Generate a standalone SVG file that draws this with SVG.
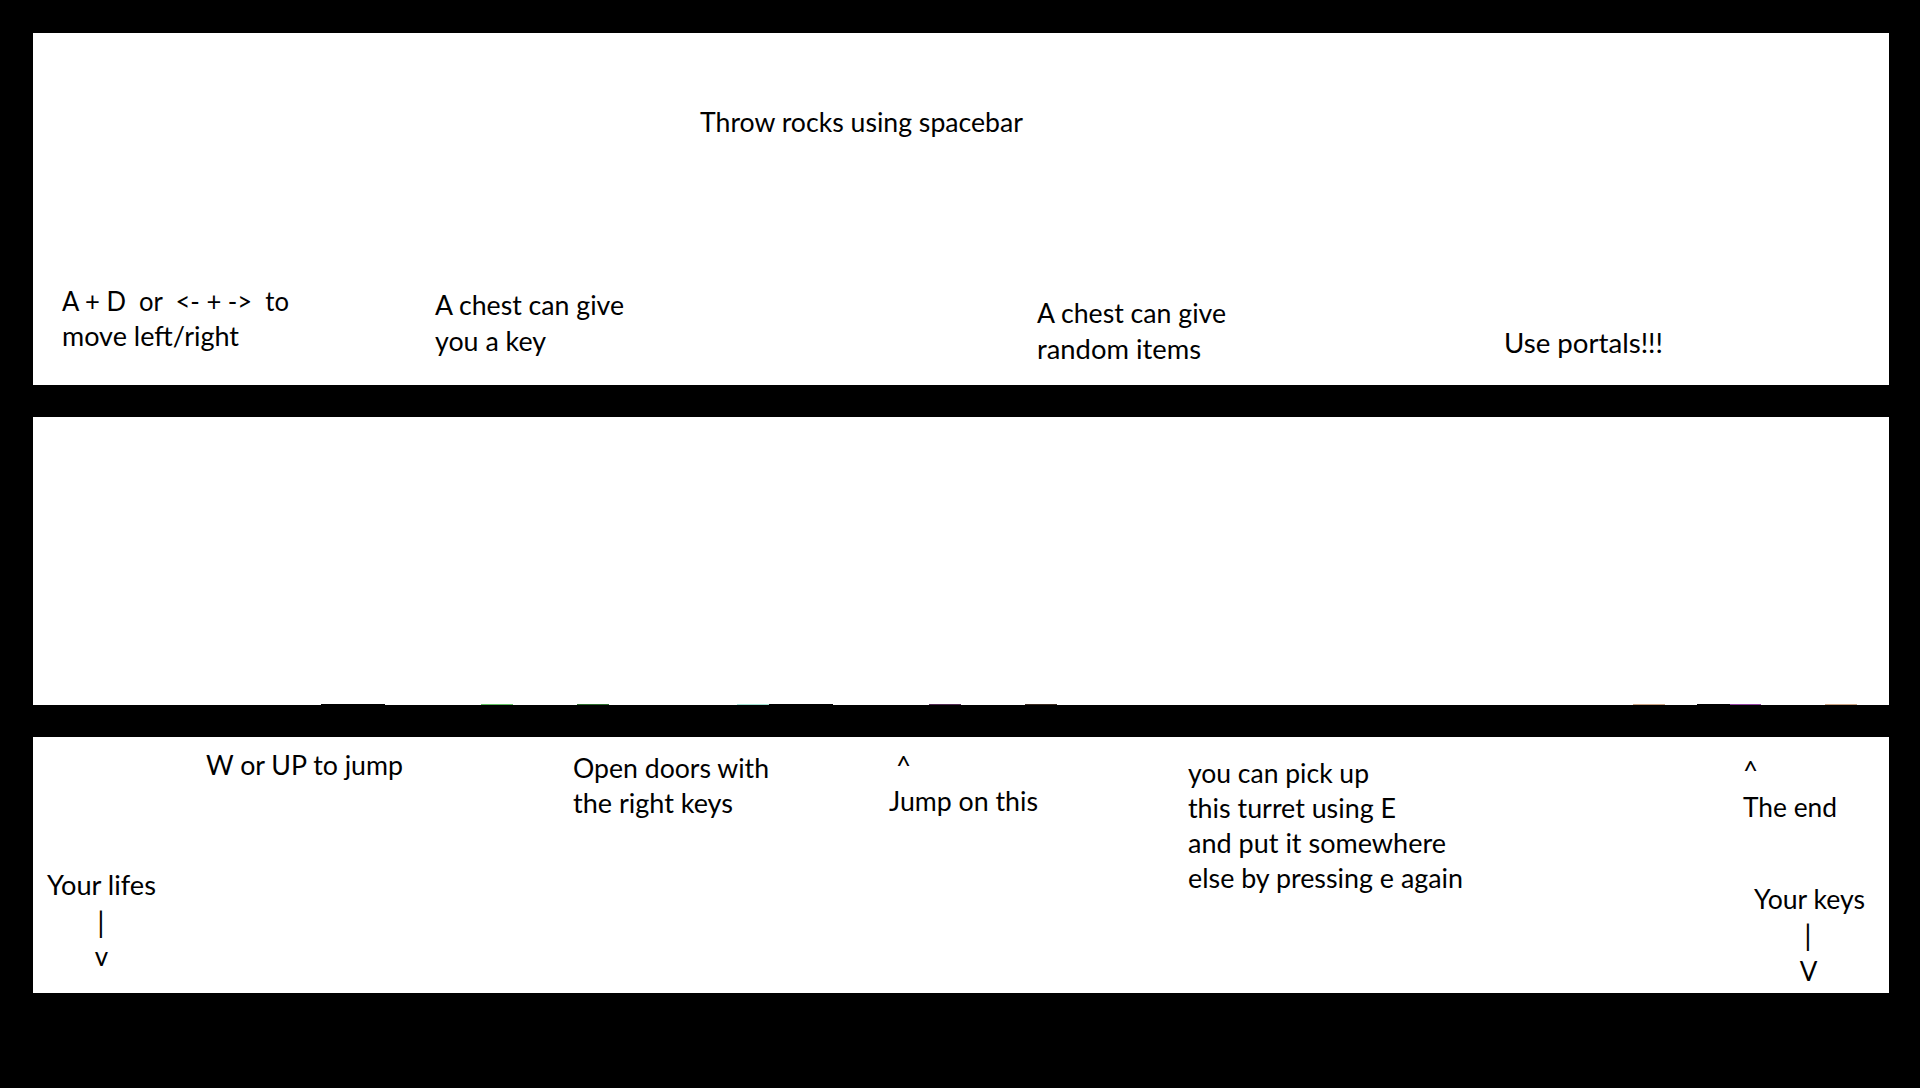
<svg xmlns="http://www.w3.org/2000/svg" width="1920" height="1088" viewBox="0 0 1920 1088">
<style>
.panel{fill:#ffffff}
.t{font-family:Lato,"Liberation Sans",sans-serif;font-size:26px;fill:#000000}
.bar{font-family:Lato,"Liberation Sans",sans-serif;font-size:29px;fill:#000000}
</style>
<rect x="0" y="0" width="1920" height="1088" fill="#000000"/>
<g id="panels">
<rect class="panel" x="33" y="33" width="1856" height="352"/>
<rect class="panel" x="33" y="417" width="1856" height="288"/>
<rect class="panel" x="33" y="737" width="1856" height="256"/>
</g>
<g id="strip">
<rect x="321" y="704" width="64" height="1" fill="#000000"/>
<rect x="481" y="704" width="32" height="1" fill="#5fbf5f"/>
<rect x="577" y="704" width="32" height="1" fill="#2a6a2a"/>
<rect x="737" y="704" width="32" height="1" fill="#a0e0d0"/>
<rect x="769" y="704" width="64" height="1" fill="#000000"/>
<rect x="929" y="704" width="32" height="1" fill="#502850"/>
<rect x="1025" y="704" width="32" height="1" fill="#3a2a20"/>
<rect x="1633" y="704" width="32" height="1" fill="#c8a080"/>
<rect x="1697" y="704" width="33" height="1" fill="#000000"/>
<rect x="1730" y="704" width="31" height="1" fill="#9040a0"/>
<rect x="1825" y="704" width="32" height="1" fill="#c8a080"/>
</g>
<g id="throw"><text class="t" x="700" y="132" textLength="323" lengthAdjust="spacingAndGlyphs">Throw rocks using spacebar</text></g>
<g id="move">
<text class="t" x="62" y="311" textLength="227" lengthAdjust="spacingAndGlyphs" xml:space="preserve">A + D  or  &lt;- + -&gt;  to</text>
<text class="t" x="62" y="346" textLength="177" lengthAdjust="spacingAndGlyphs">move left/right</text>
</g>
<g id="chest-key">
<text class="t" x="435" y="315" textLength="189" lengthAdjust="spacingAndGlyphs">A chest can give</text>
<text class="t" x="435" y="351" textLength="111" lengthAdjust="spacingAndGlyphs">you a key</text>
</g>
<g id="chest-items">
<text class="t" x="1037" y="323" textLength="189" lengthAdjust="spacingAndGlyphs">A chest can give</text>
<text class="t" x="1037" y="359" textLength="164" lengthAdjust="spacingAndGlyphs">random items</text>
</g>
<g id="portals"><text class="t" x="1504" y="353" textLength="159" lengthAdjust="spacingAndGlyphs">Use portals!!!</text></g>
<g id="jump"><text class="t" x="206" y="775" textLength="197" lengthAdjust="spacingAndGlyphs">W or UP to jump</text></g>
<g id="doors">
<text class="t" x="573" y="778" textLength="196" lengthAdjust="spacingAndGlyphs">Open doors with</text>
<text class="t" x="573" y="813" textLength="160" lengthAdjust="spacingAndGlyphs">the right keys</text>
</g>
<g id="jump-on">
<text class="t" x="896" y="775">^</text>
<text class="t" x="889" y="811" textLength="149" lengthAdjust="spacingAndGlyphs">Jump on this</text>
</g>
<g id="turret">
<text class="t" x="1188" y="783" textLength="181" lengthAdjust="spacingAndGlyphs">you can pick up</text>
<text class="t" x="1188" y="818" textLength="208" lengthAdjust="spacingAndGlyphs">this turret using E</text>
<text class="t" x="1188" y="853" textLength="258" lengthAdjust="spacingAndGlyphs">and put it somewhere</text>
<text class="t" x="1188" y="888" textLength="275" lengthAdjust="spacingAndGlyphs">else by pressing e again</text>
</g>
<g id="lifes">
<text class="t" x="47" y="895" textLength="109" lengthAdjust="spacingAndGlyphs">Your lifes</text>
<text class="bar" x="101" y="933" text-anchor="middle">|</text>
<text class="t" x="101.5" y="966" text-anchor="middle">v</text>
</g>
<g id="end">
<text class="t" x="1743" y="780">^</text>
<text class="t" x="1743" y="817" textLength="94" lengthAdjust="spacingAndGlyphs">The end</text>
</g>
<g id="keys">
<text class="t" x="1754" y="909" textLength="111" lengthAdjust="spacingAndGlyphs">Your keys</text>
<text class="bar" x="1808" y="946" text-anchor="middle">|</text>
<text class="t" x="1808.5" y="981" text-anchor="middle">V</text>
</g>
<g id="connectors"></g>
</svg>
